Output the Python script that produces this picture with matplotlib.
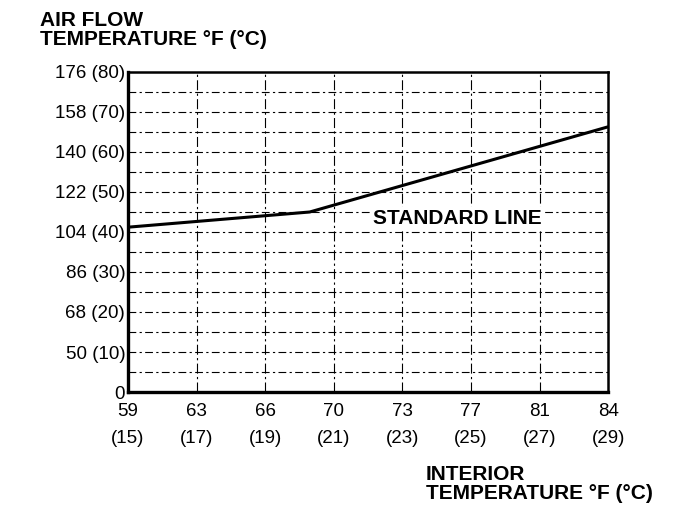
import matplotlib
matplotlib.use("Agg")
import matplotlib.pyplot as plt

# standard line (deg C)
interior_c = [15, 20.3, 29]
airflow_c = [41.2, 45.0, 66.3]

x_ticks_c = [15, 17, 19, 21, 23, 25, 27, 29]
x_ticks_f = [59, 63, 66, 70, 73, 77, 81, 84]
y_ticks_c = [0, 10, 20, 30, 40, 50, 60, 70, 80]
y_ticks_f = [0, 50, 68, 86, 104, 122, 140, 158, 176]
y_minor_c = [5, 15, 25, 35, 45, 55, 65, 75]

plt.rcParams["font.family"] = ["Liberation Sans", "DejaVu Sans"]

fig = plt.figure(figsize=(6.88, 5.16), dpi=100)
ax = fig.add_axes([0.186, 0.2403, 0.698, 0.6202])

ax.plot(interior_c, airflow_c, color="black", lw=2.2, solid_capstyle="butt")

ax.set_xlim(15, 29)
ax.set_ylim(0, 80)

# grid
for y in y_ticks_c[1:-1] + y_minor_c:
    ax.axhline(y, color="black", lw=0.8, ls=(0, (7, 3, 2, 3)), zorder=0)
for x in x_ticks_c[1:-1]:
    ax.axvline(x, color="black", lw=0.8, ls=(0, (9, 3, 2, 3)), zorder=0)

ax.set_xticks(x_ticks_c)
ax.set_xticklabels([f"{f}\n({c})" for f, c in zip(x_ticks_f, x_ticks_c)])
ax.set_yticks(y_ticks_c)
ax.set_yticklabels(["0"] + [f"{f} ({c})" for f, c in zip(y_ticks_f[1:], y_ticks_c[1:])])
ax.tick_params(axis="both", length=0, labelsize=13.5)
ax.tick_params(axis="x", pad=8)
ax.tick_params(axis="y", pad=2)
for t in ax.get_xticklabels():
    t.set_linespacing(1.75)

for side in ["left", "bottom"]:
    ax.spines[side].set_linewidth(2.4)
for side in ["top", "right"]:
    ax.spines[side].set_linewidth(1.8)

ax.text(24.6, 43.3, "STANDARD LINE", ha="center", va="center",
        fontsize=15, fontweight="bold", zorder=3,
        bbox=dict(facecolor="white", edgecolor="none", pad=2))

fig.text(0.058, 0.978, "AIR FLOW\nTEMPERATURE °F (°C)", ha="left", va="top",
         fontsize=15, fontweight="bold", linespacing=0.98)
fig.text(0.619, 0.099, "INTERIOR\nTEMPERATURE °F (°C)", ha="left", va="top",
         fontsize=15, fontweight="bold", linespacing=0.98)

fig.savefig("out.png", dpi=100)
